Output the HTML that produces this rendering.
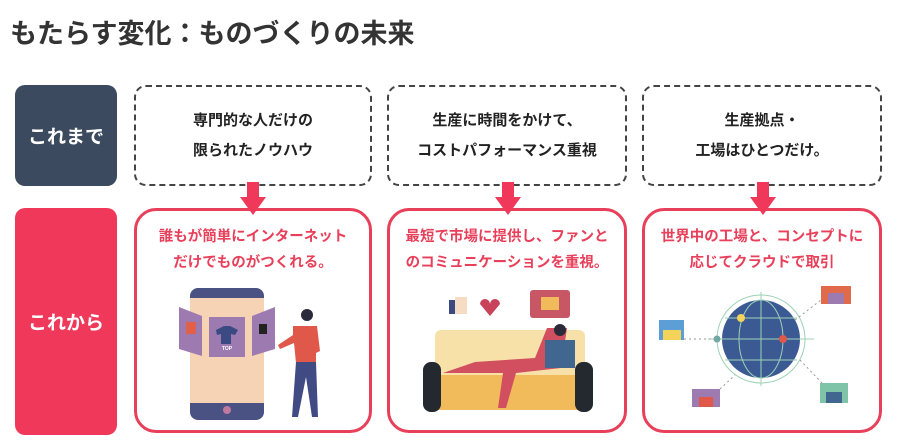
<!DOCTYPE html>
<html><head><meta charset="utf-8"><style>
body{margin:0;width:904px;height:446px;background:#fff;position:relative;overflow:hidden;font-family:"Liberation Sans","Noto Sans CJK JP",sans-serif}
.t{position:absolute;left:10px;top:12px;font-size:27px;font-weight:bold;color:#333;letter-spacing:0px}
.lab{position:absolute;left:15px;width:102px;border-radius:10px;color:#fff;font-weight:bold;font-size:19px;display:flex;align-items:center;justify-content:center}
.d{position:absolute;top:85px;height:101px;border:2px dashed #444;border-radius:12px;box-sizing:border-box;display:flex;align-items:center;justify-content:center;text-align:center;font-size:15px;font-weight:bold;color:#222;line-height:30px}
.r{position:absolute;top:208px;height:225px;border:3px solid #e8405a;border-radius:22px;box-sizing:border-box;text-align:center;font-size:14.5px;font-weight:bold;color:#e8405a;line-height:26px;padding-top:13px}
.ar{position:absolute;top:183px;width:0;height:0}
svg{position:absolute}
</style></head><body>
<div class="t">もたらす変化：ものづくりの未来</div>
<div class="lab" style="top:85px;height:101px;background:#3b4a5e">これまで</div>
<div class="lab" style="top:208px;height:227px;background:#f0395a">これから</div>
<div class="d" style="left:134px;width:238px">専門的な人だけの<br>限られたノウハウ</div>
<div class="d" style="left:387px;width:240px">生産に時間をかけて、<br>コストパフォーマンス重視</div>
<div class="d" style="left:642px;width:240px">生産拠点・<br>工場はひとつだけ。</div>
<div class="r" style="left:134px;width:238px">誰もが簡単にインターネット<br>だけでものがつくれる。</div>
<div class="r" style="left:387px;width:240px">最短で市場に提供し、ファンと<br>のコミュニケーションを重視。</div>
<div class="r" style="left:642px;width:240px">世界中の工場と、コンセプトに<br>応じてクラウドで取引</div>
<svg width="904" height="446" style="left:0;top:0">
<g fill="#f0395a">
<rect x="247" y="182" width="12" height="16"/><polygon points="240,197 266,197 253,215"/>
<rect x="502" y="182" width="12" height="16"/><polygon points="495,197 521,197 508,215"/>
<rect x="757" y="182" width="12" height="16"/><polygon points="750,197 776,197 763,215"/>
</g>
<!-- phone -->
<rect x="190" y="288" width="74" height="132" rx="8" fill="#4a5283"/>
<rect x="190" y="298" width="74" height="105" fill="#f6d3b5"/>
<circle cx="227" cy="410" r="4" fill="#c07aa0"/>
<polygon points="179,307 202,316 202,356 179,349" fill="#9d7ab0"/>
<rect x="209" y="317" width="36" height="40" fill="#9d7ab0"/>
<polygon points="252,316 275,307 275,349 252,356" fill="#9d7ab0"/>
<path d="M216 330 l8-4 h6 l8 4 -3 5 -4-1 v10 h-10 v-10 l-4 1z" fill="#3b4a82"/>
<rect x="186" y="322" width="10" height="12" fill="#e0604a"/>
<rect x="259" y="324" width="8" height="10" fill="#222"/>
<text x="227" y="350" font-size="5" fill="#fff" text-anchor="middle" font-weight="bold">TOP</text>
<!-- man -->
<circle cx="307" cy="315" r="6" fill="#2a2a3a"/>
<path d="M293 326 h24 l3 25 -4 2 v10 h-20 l-2 -20 -14 6 -2 -4 15 -10z" fill="#e0584a"/>
<path d="M296 362 h20 l2 55 -6 0 -6 -40 -8 40 -6 0z" fill="#414b83"/>
<!-- couch -->
<rect x="435" y="330" width="150" height="50" rx="6" fill="#f7e1a8"/>
<rect x="430" y="375" width="160" height="35" fill="#f1bb5b"/>
<rect x="423" y="362" width="18" height="50" rx="8" fill="#23292e"/>
<rect x="575" y="362" width="18" height="50" rx="8" fill="#23292e"/>
<path d="M475 362 l60 -4 12 -30 20 0 -6 40 -45 5 -10 35 -8 0 5 -35 -60 0z" fill="#d14f5e"/>
<rect x="545" y="340" width="30" height="28" fill="#41668f"/>
<circle cx="560" cy="330" r="6" fill="#2a2a3a"/>
<rect x="530" y="290" width="40" height="28" rx="3" fill="#c85766"/>
<rect x="541" y="297" width="18" height="13" fill="#f1bb5b"/>
<rect x="449" y="300" width="6" height="14" fill="#3b4a82"/><rect x="455" y="297" width="12" height="17" fill="#f6dcc3"/>
<path d="M480 304 a5 5 0 0 1 10 0 a5 5 0 0 1 10 0 l-10 12z" fill="#c8425a"/>
<!-- globe -->
<circle cx="761" cy="339" r="44" fill="none" stroke="#9cd2b5" stroke-width="1"/>
<circle cx="761" cy="339" r="39" fill="#3b5a94"/>
<g stroke="#9cd2b5" stroke-width="1" fill="none">
<line x1="708" y1="339" x2="814" y2="339"/><line x1="761" y1="292" x2="761" y2="386"/>
<line x1="725" y1="318" x2="797" y2="318"/><line x1="725" y1="360" x2="797" y2="360"/>
<ellipse cx="761" cy="339" rx="22" ry="39"/></g>
<circle cx="741" cy="318" r="4" fill="#f5d35a"/><circle cx="783" cy="339" r="4" fill="#e0584a"/><circle cx="717" cy="339" r="3.5" fill="#6fa7a3"/>
<rect x="659" y="320" width="25" height="20" fill="#5c9ed6"/><rect x="663" y="330" width="18" height="10" fill="#f5d35a"/>
<rect x="821" y="286" width="30" height="18" fill="#e06a4a"/><rect x="828" y="293" width="16" height="11" fill="#9d7ab0"/>
<rect x="692" y="389" width="28" height="18" fill="#9d7ab0"/><rect x="699" y="397" width="14" height="10" fill="#e0584a"/>
<rect x="820" y="383" width="28" height="20" fill="#7fc3a8"/><rect x="826" y="392" width="16" height="11" fill="#41668f"/>
<g stroke="#999" stroke-dasharray="2 3"><line x1="684" y1="339" x2="717" y2="339"/><line x1="720" y1="389" x2="735" y2="375"/><line x1="795" y1="320" x2="821" y2="300"/><line x1="800" y1="360" x2="822" y2="383"/></g>
</svg>
</body></html>
